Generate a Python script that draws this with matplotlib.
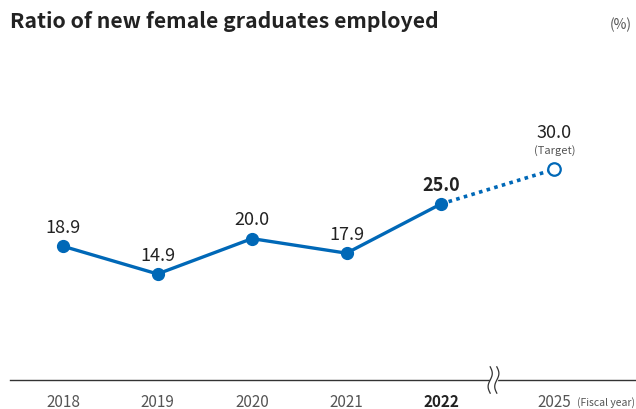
import numpy as np
import matplotlib.pyplot as plt

plt.rcParams['font.family'] = ['Noto Sans CJK JP', 'DejaVu Sans']

years = ['2018', '2019', '2020', '2021', '2022', '2025']
values = [18.9, 14.9, 20.0, 17.9, 25.0, 30.0]
xpos = [0, 1, 2, 3, 4, 5.2]

blue = '#0068b7'

fig = plt.figure(figsize=(6.36, 4.10), dpi=100)
# axes from x=10px to 636px, y from 40px to 381px
ax = fig.add_axes([10 / 636, (410 - 381) / 410, 626 / 636, (381 - 40) / 410])
ax.set_xlim(-(63 - 10) / 94.5, (636 - 63) / 94.5)
ax.set_ylim(-0.4, 48.8)

# actual results
ax.plot(xpos[:5], values[:5], color=blue, lw=2.4, marker='o', ms=8.5,
        mfc=blue, mec=blue, zorder=3, solid_capstyle='round')
# target segment
ax.plot(xpos[4:], values[4:], color=blue, lw=2.6, ls=(0, (1, 1.2)), zorder=2)
ax.plot(xpos[5], values[5], marker='o', ms=9, mfc='white', mec=blue, mew=1.6, zorder=4)

for i, (x, v) in enumerate(zip(xpos, values)):
    bold = years[i] == '2022'
    if years[i] == '2025':
        ax.annotate(f'{v:.1f}', (x, v), xytext=(0, 26.5), textcoords='offset points',
                    ha='center', va='center', fontsize=13, color='#222222')
        ax.annotate('(Target)', (x, v), xytext=(0, 14), textcoords='offset points',
                    ha='center', va='center', fontsize=8, color='#555555')
    else:
        ax.annotate(f'{v:.1f}', (x, v), xytext=(0, 14), textcoords='offset points',
                    ha='center', va='center', fontsize=13, color='#222222',
                    fontweight='bold' if bold else 'normal')

# baseline
for s in ['top', 'right', 'left']:
    ax.spines[s].set_visible(False)
ax.spines['bottom'].set_color('#333333')
ax.spines['bottom'].set_linewidth(1.0)
ax.set_yticks([])
ax.set_xticks(xpos)
ax.set_xticklabels(years)
ax.tick_params(axis='x', length=0, pad=9.5, labelsize=11, labelcolor='#555555')
for lbl in ax.get_xticklabels():
    if lbl.get_text() == '2022':
        lbl.set_fontweight('bold')
        lbl.set_color('#222222')

# axis break mark
bx = (493.5 - 63) / 94.5
t = np.linspace(0, 1, 80)
yb = -0.4 + (0.5 - t) * 3.8
wave = 0.022 * np.sin(t * 2 * np.pi)
ax.fill_betweenx(yb, bx - 0.035 + wave, bx + 0.035 + wave, color='white', zorder=5,
                 clip_on=False)
ax.plot(bx - 0.035 + wave, yb, color='#333333', lw=0.9, zorder=6, clip_on=False)
ax.plot(bx + 0.035 + wave, yb, color='#333333', lw=0.9, zorder=6, clip_on=False)

fig.text(10 / 636, 1 - 22 / 410, 'Ratio of new female graduates employed',
         fontsize=15.3, fontweight='bold', color='#222222', ha='left', va='center')
fig.text(632 / 636, 1 - 25 / 410, '(%)', fontsize=10, color='#555555',
         ha='right', va='center')
fig.text(635 / 636, 1 - 403 / 410, '(Fiscal year)', fontsize=7.5, color='#555555',
         ha='right', va='center')

fig.savefig('out.png', dpi=100)
